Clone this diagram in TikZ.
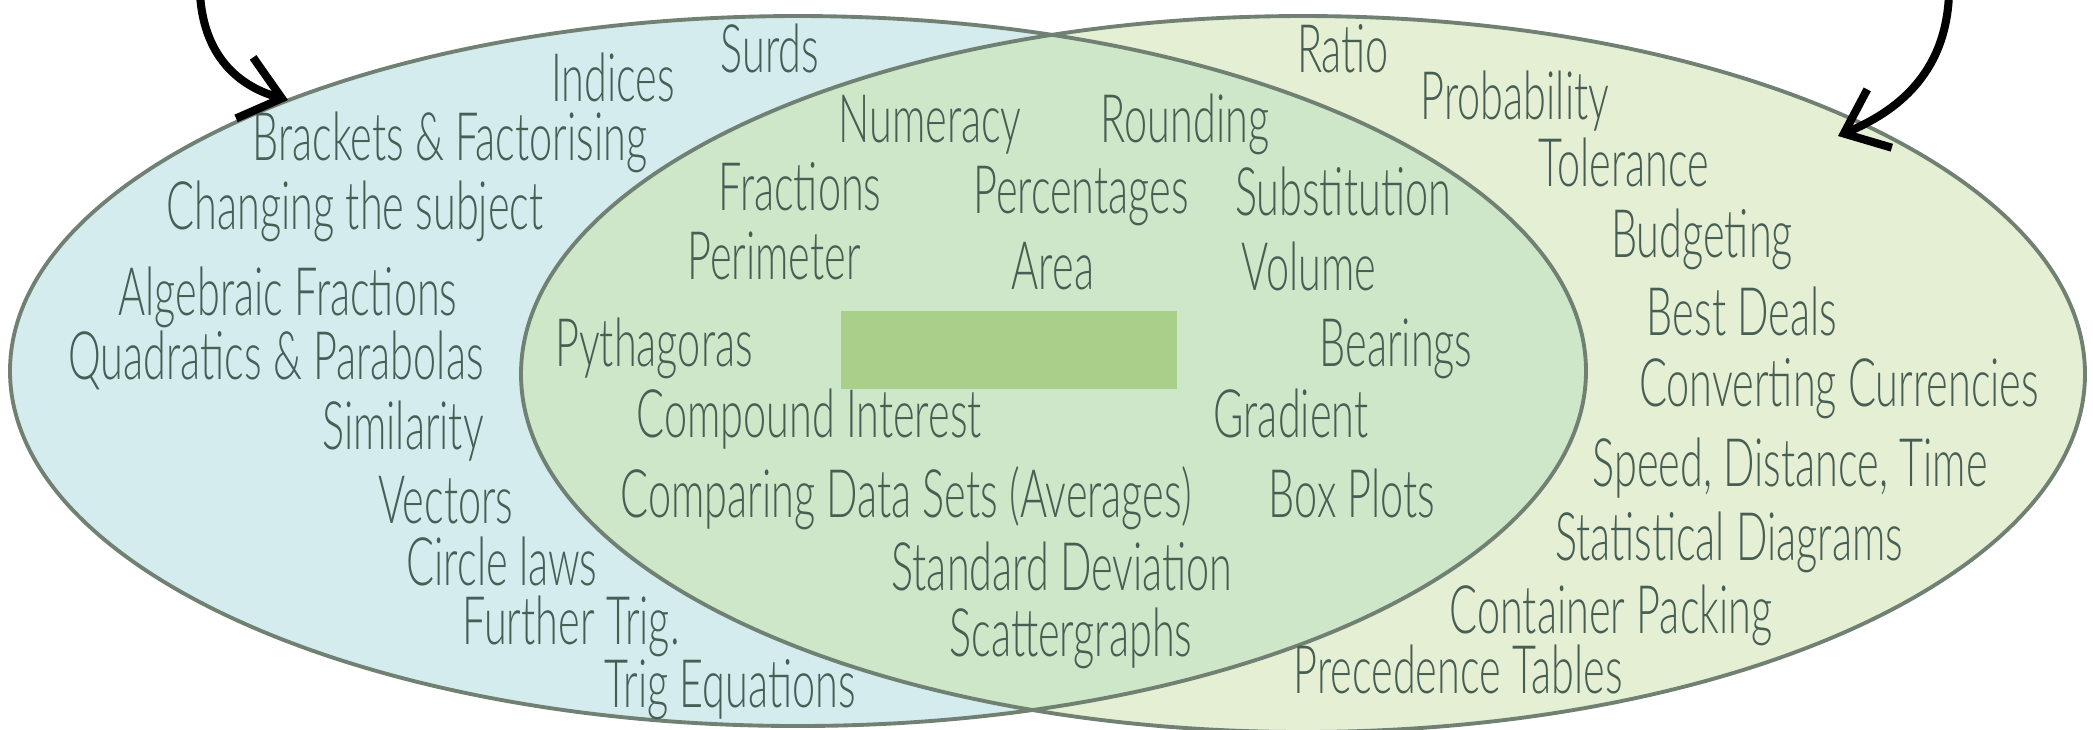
\documentclass[tikz,border=0pt]{standalone}
\usepackage{fontspec}
\setmainfont[FakeStretch=0.62]{Lato Light}
\usepackage{tikz}
\usetikzlibrary{arrows.meta}
\definecolor{setA}{RGB}{212,236,238}
\definecolor{setB}{RGB}{229,239,212}
\definecolor{setAB}{RGB}{206,231,200}
\definecolor{rim}{RGB}{112,128,114}
\definecolor{ink}{RGB}{70,94,84}
\definecolor{patch}{RGB}{168,208,138}

\begin{document}
\begin{tikzpicture}[x=0.01cm, y=-0.01cm,
	topic/.style={text=ink, inner sep=0, anchor=center, text height=1.45ex, text depth=0pt, yshift=-2pt, font=\fontsize{19}{23}\selectfont},
	curlarrow/.style={line width=2.3pt, line cap=round, -{Straight Barb[length=11pt, width=18pt, line width=2.3pt]}}]
	\useasboundingbox (0,0) rectangle (2093,729);
	\fill[setA] (798,371) ellipse [x radius=788, y radius=355];
	\fill[setB] (1303,374) ellipse [x radius=782, y radius=358];
	\begin{scope}
		\clip (798,371) ellipse [x radius=788, y radius=355];
		\fill[setAB] (1303,374) ellipse [x radius=782, y radius=358];
	\end{scope}
	\draw[rim, line width=1.1pt] (798,371) ellipse [x radius=788, y radius=355];
	\draw[rim, line width=1.1pt] (1303,374) ellipse [x radius=782, y radius=358];
	\fill[patch] (841,311) rectangle (1177,389);
	\node[topic] (indices) at (613,82) {Indices};
	\node[topic] (surds) at (770,53) {Surds};
	\node[topic] (brackets) at (450,141) {Brackets \& Factorising};
	\node[topic] (subject) at (355,210) {Changing the subject};
	\node[topic] (algfrac) at (288,296) {Algebraic Fractions};
	\node[topic] (quadratics) at (276,360) {Quadratics \& Parabolas};
	\node[topic] (similarity) at (403,430) {Similarity};
	\node[topic] (vectors) at (446,504) {Vectors};
	\node[topic] (circle) at (502,566) {Circle laws};
	\node[topic] (furthertrig) at (571,625) {Further Trig.};
	\node[topic] (trigeq) at (730,688) {Trig Equations};
	\node[topic] (numeracy) at (930,123) {Numeracy};
	\node[topic] (rounding) at (1185,123) {Rounding};
	\node[topic] (fractions) at (800,191) {Fractions};
	\node[topic] (percent) at (1081,194) {Percentages};
	\node[topic] (subst) at (1343,196) {Substitution};
	\node[topic] (perimeter) at (774,260) {Perimeter};
	\node[topic] (area) at (1053,270) {Area};
	\node[topic] (volume) at (1309,271) {Volume};
	\node[topic] (pythagoras) at (654,347) {Pythagoras};
	\node[topic] (bearings) at (1396,347) {Bearings};
	\node[topic] (compound) at (809,418) {Compound Interest};
	\node[topic] (gradient) at (1291,418) {Gradient};
	\node[topic] (comparing) at (906,498) {Comparing Data Sets (Averages)};
	\node[topic] (boxplots) at (1352,498) {Box Plots};
	\node[topic] (stddev) at (1062,571) {Standard Deviation};
	\node[topic] (scatter) at (1071,637) {Scattergraphs};
	\node[topic] (ratio) at (1343,53) {Ratio};
	\node[topic] (probability) at (1515,100) {Probability};
	\node[topic] (tolerance) at (1624,167) {Tolerance};
	\node[topic] (budgeting) at (1702,238) {Budgeting};
	\node[topic] (bestdeals) at (1742,316) {Best Deals};
	\node[topic] (currencies) at (1839,387) {Converting Currencies};
	\node[topic] (speed) at (1790,467) {Speed, Distance, Time};
	\node[topic] (statdiag) at (1729,541) {Statistical Diagrams};
	\node[topic] (packing) at (1611,614) {Container Packing};
	\node[topic] (precedence) at (1458,674) {Precedence Tables};
	\coordinate (inA) at (200,-6);
	\coordinate (tipA) at (288,100);
	\coordinate (inB) at (1949,-6);
	\coordinate (tipB) at (1838,136);
	\draw[curlarrow] (inA) .. controls (204,62) and (245,88) .. (tipA);
	\draw[curlarrow] (inB) .. controls (1946,75) and (1895,112) .. (tipB);
\end{tikzpicture}
\end{document}
